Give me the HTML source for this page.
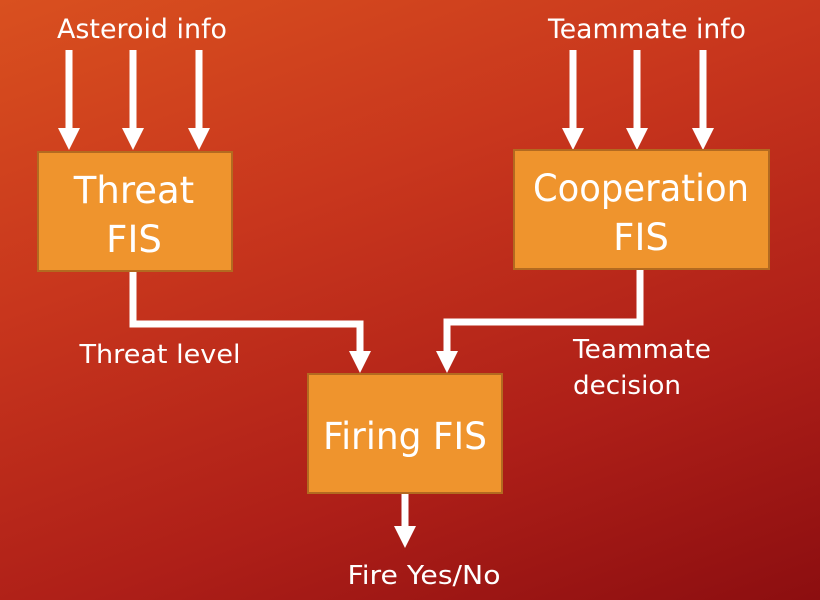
<!DOCTYPE html>
<html><head><style>
body{margin:0;width:820px;height:600px;overflow:hidden;background:linear-gradient(160deg,#d9501f 0%,#c8361d 35%,#ae1f18 70%,#8c0e10 100%);font-family:"DejaVu Sans","Liberation Sans",sans-serif;}
</style></head><body>
<svg width="820" height="600" style="position:absolute;left:0;top:0">
<g stroke="#fff" stroke-width="7" fill="none">
<line x1="69" y1="50" x2="69" y2="130"/><line x1="133" y1="50" x2="133" y2="130"/><line x1="199" y1="50" x2="199" y2="130"/>
<line x1="573" y1="50" x2="573" y2="130"/><line x1="637" y1="50" x2="637" y2="130"/><line x1="703" y1="50" x2="703" y2="130"/>
<polyline points="133,271 133,324 360,324 360,352"/>
<polyline points="640,269 640,322 447,322 447,352"/>
<line x1="405" y1="493" x2="405" y2="528"/>
</g>
<g fill="#fff">
<polygon points="58,128 80,128 69,150"/><polygon points="122,128 144,128 133,150"/><polygon points="188,128 210,128 199,150"/>
<polygon points="562,128 584,128 573,150"/><polygon points="626,128 648,128 637,150"/><polygon points="692,128 714,128 703,150"/>
<polygon points="349,351 371,351 360,373"/><polygon points="436,351 458,351 447,373"/>
<polygon points="394,526 416,526 405,548"/>
</g>
<g fill="#ef942d" stroke="#b36a20" stroke-width="2">
<rect x="38" y="152" width="194" height="119"/>
<rect x="514" y="150" width="255" height="119"/>
<rect x="308" y="374" width="194" height="119"/>
</g>
<g fill="#fff" text-anchor="middle" font-family="DejaVu Sans, Liberation Sans, sans-serif">
<text x="142" y="38" font-size="27" textLength="170" lengthAdjust="spacingAndGlyphs">Asteroid info</text>
<text x="647" y="38" font-size="27" textLength="198" lengthAdjust="spacingAndGlyphs">Teammate info</text>
<text x="134" y="203" font-size="37">Threat</text>
<text x="134" y="252" font-size="37">FIS</text>
<text x="641" y="201" font-size="37" textLength="216" lengthAdjust="spacingAndGlyphs">Cooperation</text>
<text x="641" y="250" font-size="37">FIS</text>
<text x="405" y="449" font-size="37" textLength="164" lengthAdjust="spacingAndGlyphs">Firing FIS</text>
<text x="160" y="363" font-size="26" textLength="161" lengthAdjust="spacingAndGlyphs">Threat level</text>
<text x="573" y="358" font-size="26" text-anchor="start" textLength="138" lengthAdjust="spacingAndGlyphs">Teammate</text>
<text x="573" y="394" font-size="26" text-anchor="start" textLength="108" lengthAdjust="spacingAndGlyphs">decision</text>
<text x="424" y="584" font-size="26" textLength="153" lengthAdjust="spacingAndGlyphs">Fire Yes/No</text>
</g>
</svg>
</body></html>
